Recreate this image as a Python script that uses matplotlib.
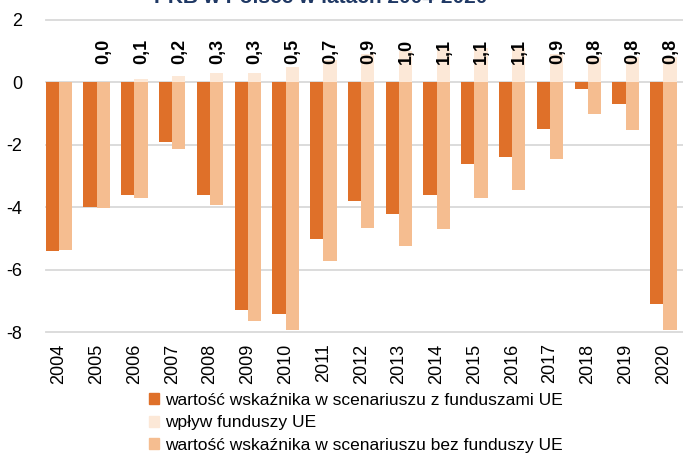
import matplotlib.pyplot as plt
import numpy as np
from matplotlib.patches import Patch

plt.rcParams['font.family'] = ['Liberation Sans', 'DejaVu Sans']

# Dane
lata = ["2004", "2005", "2006", "2007", "2008", "2009", "2010", "2011", "2012",
        "2013", "2014", "2015", "2016", "2017", "2018", "2019", "2020"]
z_funduszami = [-5.4, -4.0, -3.6, -1.9, -3.6, -7.3, -7.4, -5.0, -3.8,
                -4.2, -3.6, -2.6, -2.4, -1.5, -0.2, -0.7, -7.1]
bez_funduszy = [-5.37, -4.02, -3.7, -2.12, -3.92, -7.63, -7.92, -5.72, -4.66,
                -5.24, -4.7, -3.7, -3.45, -2.45, -1.0, -1.52, -7.92]
# wpływ funduszy UE (brak wartości dla 2004)
wplyw = [np.nan, 0.0, 0.1, 0.2, 0.3, 0.3, 0.5, 0.7, 0.9,
         1.0, 1.1, 1.1, 1.1, 0.9, 0.8, 0.8, 0.8]

etykiety_legendy = ["wartość wskaźnika w scenariuszu z funduszami UE",
                    "wpływ funduszy UE",
                    "wartość wskaźnika w scenariuszu bez funduszy UE"]

kolor_z = "#DF7029"
kolor_wplyw = "#FCE8D7"
kolor_bez = "#F5BD90"

fig = plt.figure(figsize=(6.83, 4.53), dpi=100)
ax = fig.add_axes([45.7 / 683, 1 - 332.3 / 453, 1 - 45.7 / 683, (332.3 - 19.8) / 453])

x = np.arange(len(lata))
w = 0.35

ax.bar(x - w / 2, z_funduszami, w, color=kolor_z, zorder=3)
ax.bar(x + w / 2, bez_funduszy, w, color=kolor_bez, zorder=3)
ax.bar(x + w / 2, wplyw, w, color=kolor_wplyw, zorder=3)

# Etykiety wpływu funduszy
for xi, v in zip(x, wplyw):
    if np.isnan(v):
        continue
    ax.text(xi + w / 2 + 0.02, 0.58, f"{v:.1f}".replace(".", ","), rotation=90,
            ha="center", va="bottom", fontsize=13, fontweight="bold", zorder=4)

ax.set_xlim(-0.35, 16.52)
ax.set_ylim(-8, 2)
ax.set_yticks([2, 0, -2, -4, -6, -8])
ax.set_yticklabels(["2", "0", "-2", "-4", "-6", "-8"], fontsize=13)
ax.set_xticks(x)
ax.set_xticklabels(lata, rotation=90, fontsize=13)
ax.tick_params(length=0, pad=8)
ax.tick_params(axis="y", pad=17)
for s in ax.spines.values():
    s.set_visible(False)
for g in [2, 0, -2, -4, -6, -8]:
    ax.axhline(g, color="#D9D9D9", lw=1.3, zorder=1, clip_on=False)

# Tytuł (przycięty u góry, jak w oryginale)
fig.text(0.47, 1 - 3 / 453, "PKB w Polsce w latach 2004-2020", ha="center", va="baseline",
         fontsize=15, fontweight="bold", color="#1F3864")

uchwyty = [Patch(color=kolor_z), Patch(color=kolor_wplyw), Patch(color=kolor_bez)]
fig.legend(uchwyty, etykiety_legendy, loc="upper left", bbox_to_anchor=(149 / 683, 1 - 393 / 453),
           frameon=False, fontsize=12.5, handlelength=0.6, handleheight=0.6,
           handletextpad=0.35, labelspacing=0.42, borderpad=0, borderaxespad=0)

fig.savefig("out.png", dpi=100)
